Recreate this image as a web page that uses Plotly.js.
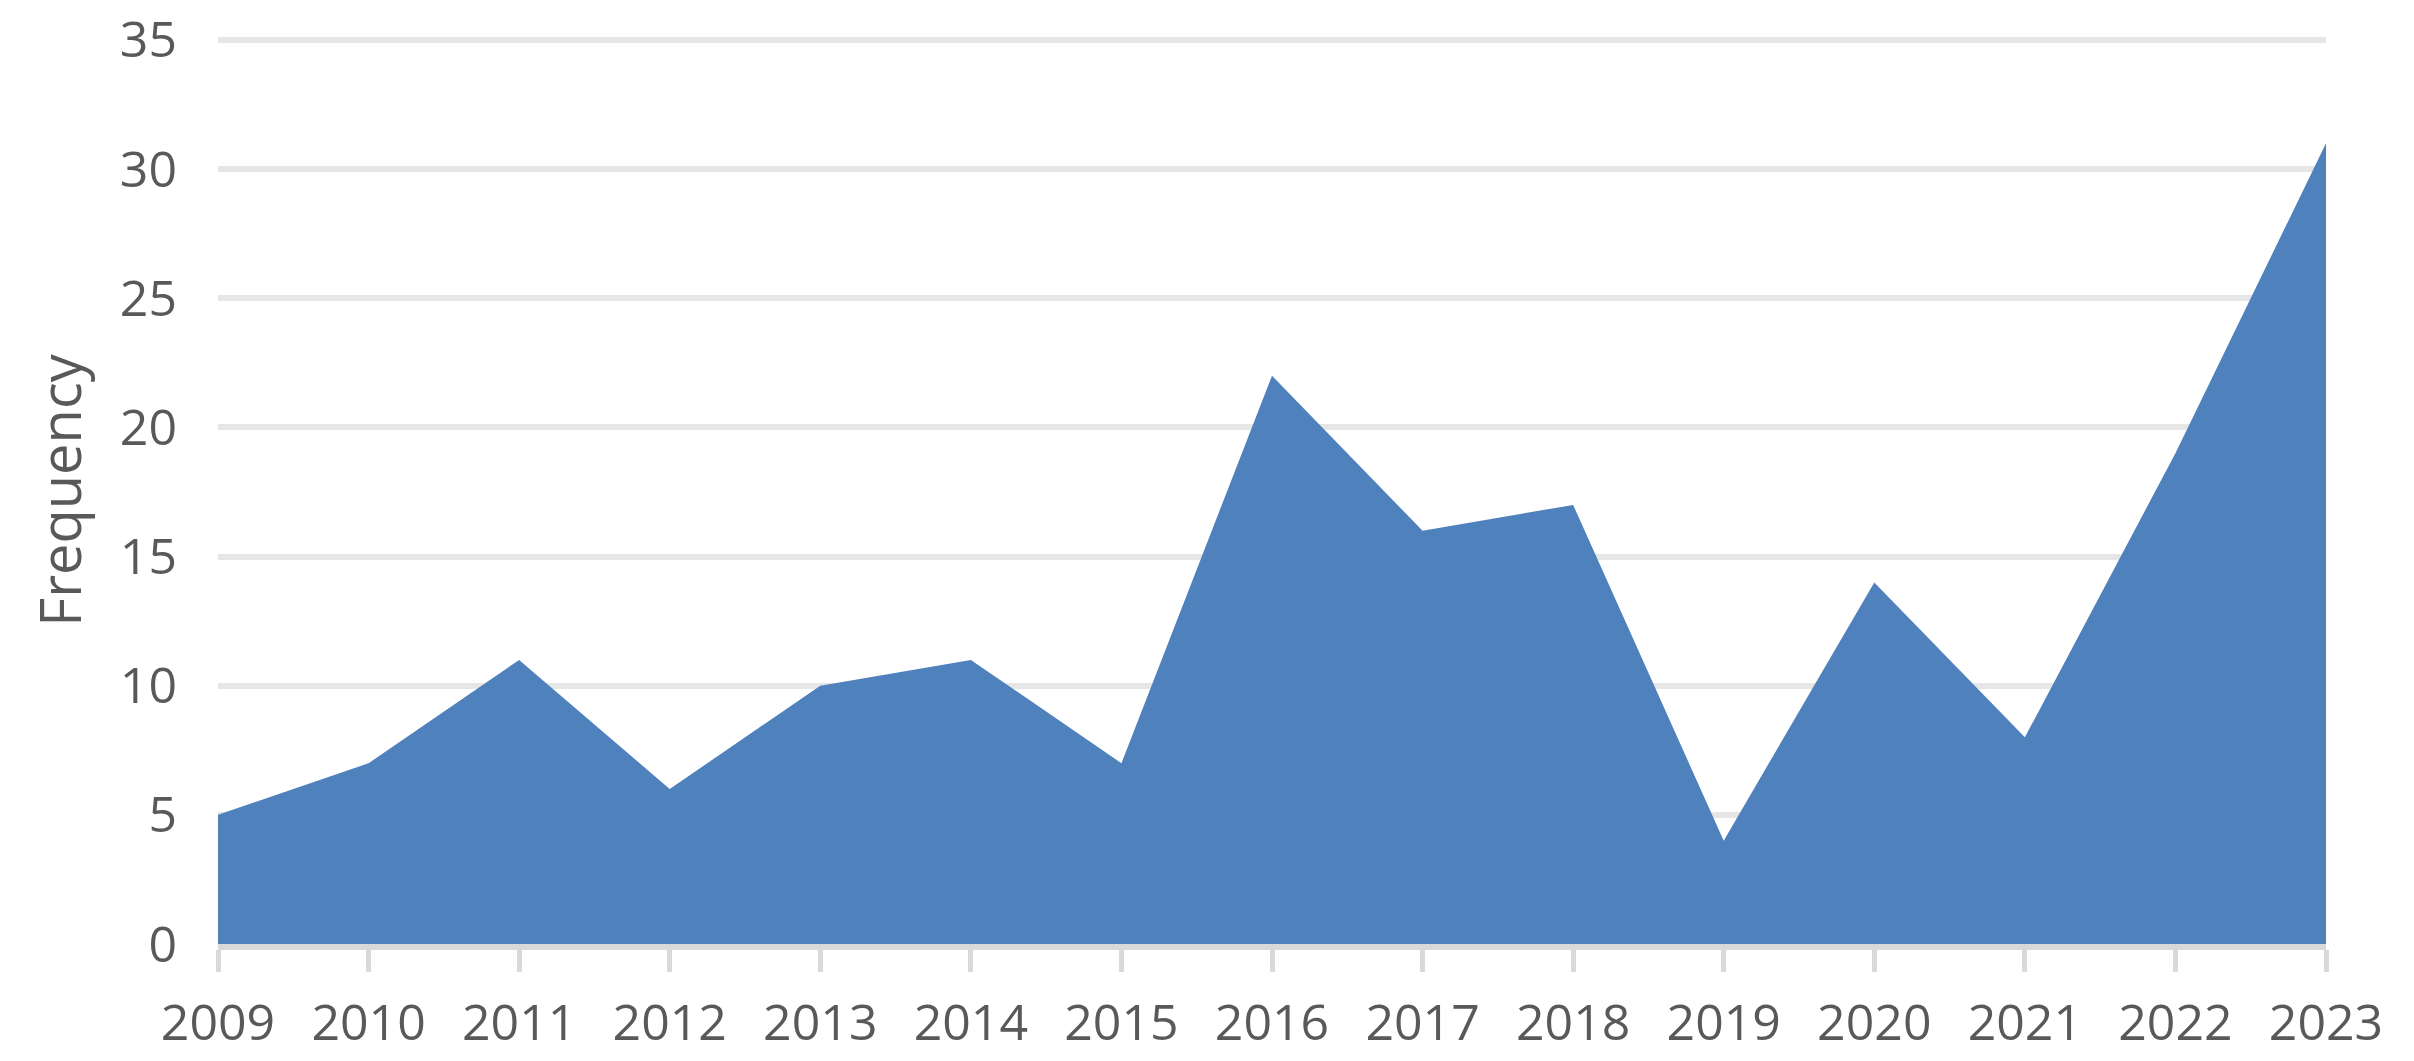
<!DOCTYPE html>
<html>
<head>
<meta charset="utf-8">
<script src="https://cdn.plot.ly/plotly-3.0.1.min.js"></script>
<style>html,body{margin:0;padding:0;background:#fff;}#chart{width:2414px;height:1061px;}</style>
</head>
<body>
<div id="chart"></div>
<script>
const years = [2009, 2010, 2011, 2012, 2013, 2014, 2015, 2016, 2017, 2018, 2019, 2020, 2021, 2022, 2023];
const frequency = [5, 7, 11, 6, 10, 11, 7, 22, 16, 17, 4, 14, 8, 19, 31];
const yTicks = [0, 5, 10, 15, 20, 25, 30, 35];

const trace = {
  x: years,
  y: frequency,
  type: 'scatter',
  mode: 'lines',
  fill: 'tozeroy',
  fillcolor: '#4f81bd',
  line: {width: 0, color: '#4f81bd'},
  hoverinfo: 'x+y'
};

const font = {family: '"Open Sans", "Liberation Sans", sans-serif', color: '#595959'};

const layout = {
  width: 2414,
  height: 1061,
  margin: {l: 218, r: 88, t: 37, b: 117, autoexpand: false},
  paper_bgcolor: '#ffffff',
  plot_bgcolor: '#ffffff',
  showlegend: false,
  font: font,
  xaxis: {
    range: [2009, 2023],
    tickvals: years,
    ticktext: years.map(String),
    tickfont: {family: font.family, color: '#595959', size: 50},
    showgrid: false,
    zeroline: false,
    showline: true,
    linecolor: '#d9d9d9',
    linewidth: 6,
    ticks: 'outside',
    ticklen: 22,
    tickwidth: 5,
    tickcolor: '#d9d9d9',
    ticklabelstandoff: 8,
    automargin: false,
    fixedrange: true
  },
  yaxis: {
    range: [0, 35.115],
    tickvals: yTicks,
    ticktext: yTicks.map(String),
    tickfont: {family: font.family, color: '#595959', size: 50},
    showgrid: true,
    gridcolor: '#e6e6e6',
    gridwidth: 6,
    zeroline: false,
    showline: false,
    ticks: '',
    ticklabelstandoff: 40,
    automargin: false,
    fixedrange: true,
    title: {text: 'Frequency', font: {family: font.family, color: '#595959', size: 56}, standoff: 20}
  }
};

Plotly.newPlot('chart', [trace], layout, {displayModeBar: false, staticPlot: true});
</script>
</body>
</html>
